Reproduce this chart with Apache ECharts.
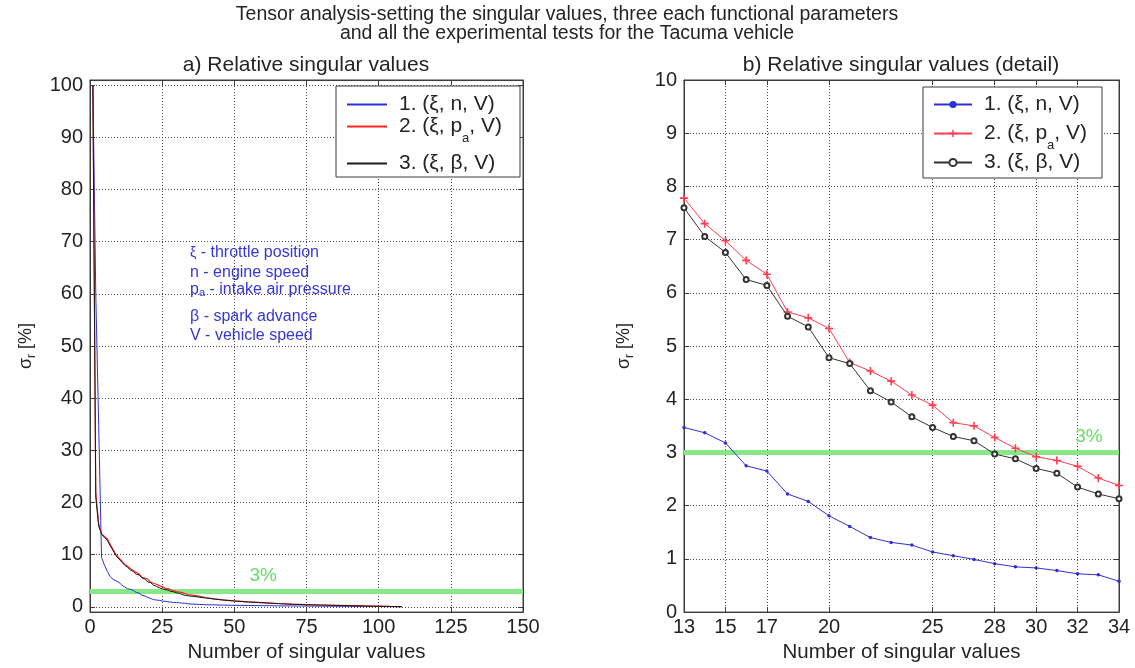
<!DOCTYPE html>
<html><head><meta charset="utf-8">
<script src="https://cdn.jsdelivr.net/npm/echarts@6/dist/echarts.min.js"></script>
<style>html,body{margin:0;padding:0;background:#fff}#c{width:1135px;height:668px}</style>
</head><body><div id="c"></div>
<script>
// ---------- data ----------
const detailIdx = [13,14,15,16,17,18,19,20,21,22,23,24,25,26,27,28,29,30,31,32,33,34];
const det1 = [3.47,3.37,3.18,2.75,2.65,2.22,2.08,1.81,1.61,1.40,1.31,1.26,1.13,1.06,0.99,0.91,0.85,0.83,0.78,0.72,0.70,0.58];
const det2 = [7.78,7.30,6.98,6.61,6.35,5.64,5.53,5.33,4.69,4.53,4.34,4.08,3.89,3.56,3.50,3.28,3.08,2.92,2.85,2.74,2.52,2.38];
const det3 = [7.60,7.06,6.76,6.25,6.14,5.56,5.36,4.78,4.67,4.16,3.95,3.67,3.47,3.30,3.22,2.97,2.88,2.70,2.61,2.35,2.22,2.13];

const headIdx = [1,2,3,4,5,6,7,8,9,10,11,12];
const tailIdx = [36,38,40,43,46,50,55,60,65,70,75,80,85,90,95,100,104,108];
const full1Head = [100,60,35,9.5,8,6.8,5.8,5.3,5.0,4.7,4.2,3.8];
const full1Tail = [0.52,0.47,0.42,0.38,0.34,0.30,0.26,0.23,0.20,0.18,0.16,0.14,0.12,0.10,0.08,0.07,0.05,0.04];
const full2Head = [100,22,16,14,13.5,13,12,11,10,9.4,8.8,8.2];
const full2Tail = [2.2,2.0,1.8,1.55,1.35,1.15,0.95,0.8,0.65,0.52,0.43,0.36,0.30,0.24,0.18,0.13,0.09,0.06];
const full3Head = [100,21,15.5,14,13.3,12.8,11.7,10.8,9.8,9.2,8.6,8.0];
const full3Tail = [2.0,1.85,1.7,1.5,1.32,1.12,0.93,0.78,0.63,0.50,0.42,0.35,0.29,0.23,0.17,0.12,0.08,0.05];

const threshold = 3;
const leftXTicks = [0,25,50,75,100,125,150];
const leftYTicks = [0,10,20,30,40,50,60,70,80,90,100];
const rightXTicks = [13,15,17,20,25,28,30,32,34];
const rightYTicks = [0,1,2,3,4,5,6,7,8,9,10];

// ---------- build ----------
const pairs = (xs, ys) => xs.map((x, i) => [x, ys[i]]);
const fullIdx = headIdx.concat(detailIdx, tailIdx);
const full1 = pairs(fullIdx, full1Head.concat(det1, full1Tail));
const full2 = pairs(fullIdx, full2Head.concat(det2, full2Tail));
const full3 = pairs(fullIdx, full3Head.concat(det3, full3Tail));

const FONT = 'Liberation Sans, Arial, sans-serif';
const FRAME = '#3c3c3c';
const BLUE = '#2f2fd6', RED = '#ff2424', BLACK = '#1a1a1a', GREEN = '#88e888';
const RED2 = '#ff3c50';
const TXT = '#242424';

const grids = [
  {left: 90, top: 80, width: 433, height: 535, show: true, borderColor: FRAME, borderWidth: 1},
  {left: 684, top: 80, width: 435, height: 535, show: true, borderColor: FRAME, borderWidth: 1}
];

const gridLine = {show: true, lineStyle: {color: '#444', type: [1, 2], width: 1}};
const lbl = {color: TXT, fontSize: 20, fontFamily: FONT};
const nameStyle = {color: TXT, fontSize: 20.5, fontFamily: FONT};
const yName = '{s|σ}{r|r}{s| [%]}';
const yNameStyle = {color: TXT, fontFamily: FONT, rich: {
  s: {fontSize: 18, lineHeight: 24, fontFamily: FONT, color: TXT},
  r: {fontSize: 12, lineHeight: 10, verticalAlign: 'bottom', fontFamily: FONT, color: TXT}
}};

function xAx(grid, min, max, ticks, pos, main) {
  return {
    gridIndex: grid, type: 'value', min: min, max: max, position: pos,
    axisLine: {show: true, onZero: false, lineStyle: {color: FRAME, width: 1}},
    axisTick: {show: true, inside: true, length: 5, customValues: ticks, lineStyle: {color: FRAME}},
    axisLabel: main ? Object.assign({show: true, margin: 5, customValues: ticks}, lbl) : {show: false},
    splitLine: main ? gridLine : {show: false},
    name: main ? 'Number of singular values' : '', nameLocation: 'middle', nameGap: 27,
    nameTextStyle: nameStyle
  };
}
function yAx(grid, min, max, ticks, pos, main, gap) {
  return {
    gridIndex: grid, type: 'value', min: min, max: max, position: pos,
    axisLine: {show: true, onZero: false, lineStyle: {color: FRAME, width: 1}},
    axisTick: {show: true, inside: true, length: 5, customValues: ticks, lineStyle: {color: FRAME}},
    axisLabel: main ? Object.assign({show: true, margin: 7, customValues: ticks}, lbl) : {show: false},
    splitLine: main ? gridLine : {show: false},
    name: main ? yName : '', nameLocation: 'middle', nameGap: gap || 50, nameRotate: 90,
    nameTextStyle: yNameStyle
  };
}

const plusPath = 'path://M4,0h2v4h4v2h-4v4h-2v-4h-4v-2h4z';

const threshLine = (labelX) => ({
  markLine: {silent: true, symbol: 'none', z: 1, animation: false,
    lineStyle: {color: GREEN, width: 5, type: 'solid', opacity: 1},
    label: {show: false}, data: [{yAxis: threshold}]},
  markPoint: {silent: true, symbol: 'circle', symbolSize: 0, animation: false,
    label: {show: true, position: 'top', distance: 6, formatter: threshold + '%', color: '#66dd66', fontSize: 19, fontFamily: FONT},
    data: [{coord: [labelX, threshold]}]}
});

const series = [
  Object.assign({name: 'a1', type: 'line', xAxisIndex: 0, yAxisIndex: 0, data: full1, symbol: 'none',
    lineStyle: {color: BLUE, width: 1}, itemStyle: {color: BLUE}, z: 3, animation: false}, threshLine(60)),
  {name: 'a2', type: 'line', xAxisIndex: 0, yAxisIndex: 0, data: full2, symbol: 'none',
    lineStyle: {color: RED, width: 1.2}, itemStyle: {color: RED}, z: 3, animation: false},
  {name: 'a3', type: 'line', xAxisIndex: 0, yAxisIndex: 0, data: full3, symbol: 'none',
    lineStyle: {color: BLACK, width: 1}, itemStyle: {color: BLACK}, z: 3, animation: false},
  Object.assign({name: 'b1', type: 'line', xAxisIndex: 2, yAxisIndex: 2, data: pairs(detailIdx, det1),
    symbol: 'circle', symbolSize: 3.5, lineStyle: {color: BLUE, width: 1}, itemStyle: {color: BLUE}, z: 3, animation: false},
    threshLine(32.55)),
  {name: 'b2', type: 'line', xAxisIndex: 2, yAxisIndex: 2, data: pairs(detailIdx, det2),
    symbol: plusPath, symbolSize: 8, lineStyle: {color: RED2, width: 1}, itemStyle: {color: RED2}, z: 3, animation: false},
  {name: 'b3', type: 'line', xAxisIndex: 2, yAxisIndex: 2, data: pairs(detailIdx, det3),
    symbol: 'emptyCircle', symbolSize: 5, lineStyle: {color: '#333', width: 1}, itemStyle: {color: '#333', borderWidth: 1}, z: 4, animation: false}
];

const legendLabels = {
  a1: '{m|1. (ξ, n, V)}',
  a2: '{m|2. (ξ, p}{s|a}{m|, V)}',
  a3: '{m|3. (ξ, β, V)}',
  b1: '{m|1. (ξ, n, V)}',
  b2: '{m|2. (ξ, p}{s|a}{m|, V)}',
  b3: '{m|3. (ξ, β, V)}'
};
const legendRich = {
  m: {fontSize: 21, lineHeight: 37, fontFamily: FONT, color: TXT},
  s: {fontSize: 13, lineHeight: 13, verticalAlign: 'bottom', fontFamily: FONT, color: TXT}
};
// legend entries: [name, x of sample line, y centre of the entry, sample width, icon height]
const legendItems = [
  ['a1', 346, 103, 40, 12], ['a2', 346, 125, 40, 12], ['a3', 346, 162, 40, 12],
  ['b1', 933, 103, 38, 9], ['b2', 933, 132, 38, 9], ['b3', 933, 161, 38, 9]
];
const legends = legendItems.map(([n, x, y, w, h]) => ({
  data: [n], orient: 'vertical', left: x, top: y - 9, padding: 0, itemGap: 0,
  itemWidth: w, itemHeight: h, selectedMode: false, z: 6,
  itemStyle: n[0] === 'a' ? {opacity: 0} : {},
  formatter: k => legendLabels[k],
  textStyle: {padding: [0, 0, 0, 7], rich: legendRich}
}));

const noteColor = '#3636d8';
const noteRich = {
  t: {fontSize: 16, fontFamily: FONT, color: noteColor, lineHeight: 16},
  g: {fontSize: 14, fontFamily: FONT, color: noteColor, lineHeight: 16},
  sub: {fontSize: 11, fontFamily: FONT, color: noteColor, lineHeight: 4, verticalAlign: 'bottom'}
};
const notes = [
  {text: '{g|ξ}{t| - throttle position}', y: 253},
  {text: '{t|n - engine speed}', y: 273},
  {text: '{t|p}{sub|a}{t| - intake air pressure}', y: 290},
  {text: '{t|β - spark advance}', y: 317},
  {text: '{t|V - vehicle speed}', y: 336}
];
const legendBoxes = [
  {x: 336, y: 86, w: 184, h: 91},
  {x: 923, y: 87, w: 179, h: 91}
];

const option = {
  backgroundColor: '#fff',
  animation: false,
  title: [
    {text: 'Tensor analysis-setting the singular values, three each functional parameters\nand all the experimental tests for the Tacuma vehicle',
     left: 567, textAlign: 'center', top: 5, padding: 0,
     textStyle: {fontSize: 19.5, fontWeight: 'normal', lineHeight: 19, color: TXT, fontFamily: FONT}},
    {text: 'a) Relative singular values', left: 306, textAlign: 'center', top: 55, padding: 0,
     textStyle: {fontSize: 21, fontWeight: 'normal', lineHeight: 20, color: TXT, fontFamily: FONT}},
    {text: 'b) Relative singular values (detail)', left: 901, textAlign: 'center', top: 55, padding: 0,
     textStyle: {fontSize: 21, fontWeight: 'normal', lineHeight: 20, color: TXT, fontFamily: FONT}}
  ],
  grid: grids,
  xAxis: [
    xAx(0, 0, 150, leftXTicks, 'bottom', true),
    xAx(0, 0, 150, leftXTicks, 'top', false),
    xAx(1, 13, 34, rightXTicks, 'bottom', true),
    xAx(1, 13, 34, rightXTicks, 'top', false)
  ],
  yAxis: [
    yAx(0, -1, 101, leftYTicks, 'left', true, 52),
    yAx(0, -1, 101, leftYTicks, 'right', false),
    yAx(1, 0, 10, rightYTicks, 'left', true, 48),
    yAx(1, 0, 10, rightYTicks, 'right', false)
  ],
  legend: legends,
  series: series,
  graphic: legendBoxes.map(b => ({type: 'rect', z: 5, silent: true, shape: {x: b.x, y: b.y, width: b.w, height: b.h},
      style: {fill: '#fff', stroke: FRAME, lineWidth: 1}}))
    .concat(notes.map(n => ({type: 'text', left: 190, top: n.y - 8, z: 10, silent: true,
      style: {text: n.text, rich: noteRich, fill: noteColor}})))
};

const chart = echarts.init(document.getElementById('c'), null, {renderer: 'canvas'});
chart.setOption(option);
</script>
</body></html>
